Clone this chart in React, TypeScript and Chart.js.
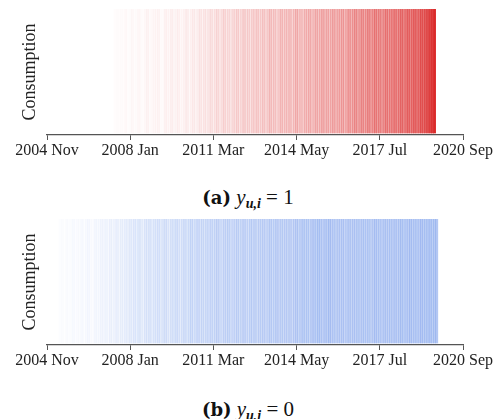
import React, { useEffect, useRef } from "react";
import { Chart, registerables } from "chart.js";

Chart.register(...registerables);

// Months are counted from 2004 Nov (index 0) to 2020 Sep (index 190)
const tickLabels = ["2004 Nov", "2008 Jan", "2011 Mar", "2014 May", "2017 Jul", "2020 Sep"];
const axisMax = 190;
const tickStep = 38;

// Panel (a): y_{u,i} = 1 — monthly intensity (%) starting 2007 Jun
const startA = 31;
const intensityA = [
  1, 2, 1, 2, 1, 3, 1,
  2, 3, 1, 2, 4, 2, 1, 3, 5, 2, 3, 4,
  3, 5, 2, 2, 6, 4, 3, 7, 3, 5, 6, 3,
  4, 6, 8, 3, 6, 8, 5, 7, 10, 6, 11, 8,
  10, 13, 8, 12, 15, 9, 13, 17, 11, 15, 10, 16,
  14, 19, 12, 16, 21, 15, 18, 13, 20, 17, 22, 16,
  18, 23, 16, 21, 26, 19, 24, 17, 22, 27, 20, 25,
  23, 28, 20, 25, 31, 24, 27, 22, 29, 26, 32, 25,
  28, 33, 26, 31, 36, 29, 34, 27, 32, 37, 30, 35,
  33, 38, 31, 36, 43, 34, 40, 46, 37, 42, 48, 39,
  44, 50, 41, 47, 53, 45, 51, 43, 49, 55, 46, 52,
  53, 58, 50, 56, 62, 54, 60, 66, 57, 63, 68, 61,
  66, 72, 68, 76, 80, 85, 91, 100,
];

// Panel (b): y_{u,i} = 0 — monthly intensity (%) starting 2005 May
const startB = 6;
const intensityB = [
  2, 3, 1, 4, 2, 3, 5, 2,
  4, 3, 6, 2, 5, 7, 4, 3, 8, 5, 6, 9,
  7, 10, 6, 12, 8, 11, 14, 9, 13, 10, 16, 12,
  18, 14, 20, 15, 22, 17, 13, 21, 19, 24, 16, 22,
  20, 25, 18, 23, 27, 21, 17, 26, 22, 28, 24, 19,
  26, 30, 23, 28, 32, 25, 29, 34, 27, 31, 26, 33,
  30, 35, 28, 33, 37, 31, 29, 36, 32, 38, 30, 34,
  33, 38, 31, 36, 40, 34, 30, 39, 35, 41, 33, 37,
  36, 40, 34, 38, 42, 35, 39, 43, 37, 41, 36, 40,
  38, 42, 36, 40, 45, 39, 43, 47, 41, 44, 38, 46,
  48, 44, 50, 46, 42, 49, 45, 51, 43, 47, 41, 45,
  42, 46, 40, 44, 48, 41, 45, 43, 47, 42, 46, 44,
  43, 47, 41, 45, 49, 44, 46, 42, 48, 45, 43, 47,
  45, 49, 43, 47, 50, 44, 48, 46, 51, 45, 49, 47,
  48, 52, 46, 50, 49, 53, 47, 51, 55,
];

const RED = [218, 42, 42];
const BLUE = [105, 145, 232];
const RED_SCALE = 1;
const BLUE_SCALE = 0.92;

function Panel({ start, values, rgb, scale, top }: { start: number; values: number[]; rgb: number[]; scale: number; top: number }) {
  const ref = useRef<HTMLCanvasElement>(null);
  useEffect(() => {
    if (!ref.current) return;
    const data = values.map((v, i) => ({ x: start + i, y: 1 }));
    const colors = values.map((v) => `rgba(${rgb[0]},${rgb[1]},${rgb[2]},${(v / 100) * scale})`);
    const chart = new Chart(ref.current, {
      type: "bar",
      data: {
        datasets: [
          {
            data,
            backgroundColor: colors,
            borderWidth: 0,
            barPercentage: 1,
            categoryPercentage: 1,
          },
        ],
      },
      options: {
        animation: false,
        responsive: false,
        events: [],
        layout: { padding: { left: 19, right: 33, top: 9, bottom: 0 } },
        plugins: { legend: { display: false }, tooltip: { enabled: false } },
        scales: {
          x: {
            type: "linear",
            min: 0,
            max: axisMax,
            offset: false,
            grid: { display: true, offset: false, drawOnChartArea: false, tickLength: 5, color: "#555", lineWidth: 1 },
            border: { display: true, color: "#555", width: 1.3 },
            ticks: {
              stepSize: tickStep,
              padding: 1,
              maxRotation: 0,
              autoSkip: false,
              color: "#222",
              font: { family: "Liberation Serif", size: 16 },
              callback: (value: any) => tickLabels[Math.round(Number(value) / tickStep)] ?? "",
            },
            afterFit: (s: any) => {
              s.height = 35;
            },
          },
          y: {
            min: -0.016,
            max: 1,
            grid: { display: false },
            border: { display: false },
            ticks: { display: false },
            title: {
              display: true,
              text: "Consumption",
              color: "#222",
              font: { family: "Liberation Serif", size: 18 },
              padding: 0,
            },
            afterFit: (s: any) => {
              s.width = 28;
            },
          },
        },
      },
    });
    return () => chart.destroy();
  }, []);
  return (
    <canvas
      ref={ref}
      width={496}
      height={170}
      style={{ position: "absolute", left: 0, top, width: 496, height: 170 }}
    />
  );
}

function Caption({ label, value, top }: { label: string; value: string; top: number }) {
  return (
    <div
      style={{
        position: "absolute",
        left: 0,
        top,
        width: 496,
        textAlign: "center",
        fontFamily: "Liberation Serif",
        fontSize: 21,
        color: "#111",
        lineHeight: "22px",
        whiteSpace: "nowrap",
      }}
    >
      <b style={{ fontFamily: "DejaVu Serif", fontSize: 18 }}>{label}</b>{" "}
      <i>y</i>
      <sub style={{ fontStyle: "italic", fontWeight: "bold", fontSize: 14, verticalAlign: "-4px" }}>u,i</sub> = {value}
    </div>
  );
}

export default function App() {
  return (
    <div style={{ position: "absolute", left: 0, top: 0, width: 496, height: 419, background: "#fff" }}>
      <Panel start={startA} values={intensityA} rgb={RED} scale={RED_SCALE} top={0} />
      <Caption label="(a)" value="1" top={186} />
      <Panel start={startB} values={intensityB} rgb={BLUE} scale={BLUE_SCALE} top={210} />
      <Caption label="(b)" value="0" top={398} />
    </div>
  );
}
